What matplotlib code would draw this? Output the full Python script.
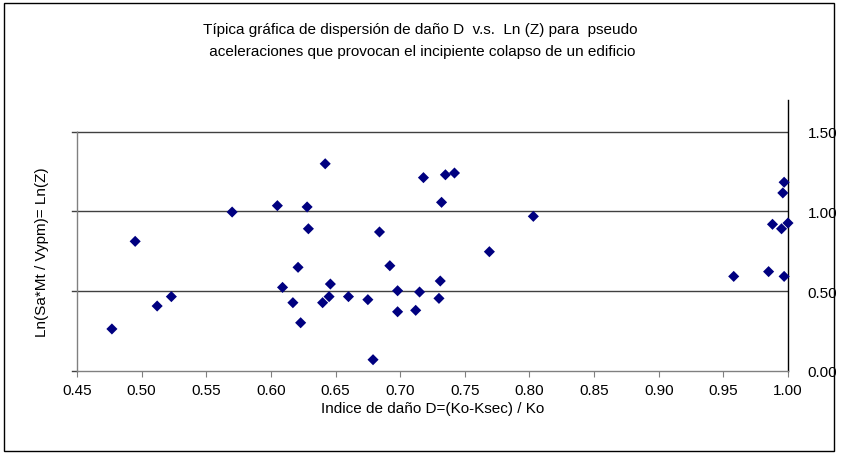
import numpy as np
import matplotlib
matplotlib.use("Agg")
import matplotlib.pyplot as plt
from matplotlib.patches import Rectangle

plt.rcParams['font.family'] = ['Liberation Sans', 'DejaVu Sans']

# indice de daño D y Ln(Z) de cada caso
dano = [0.477, 0.495, 0.512, 0.523, 0.570, 0.605, 0.609, 0.617, 0.621, 0.623,
        0.628, 0.629, 0.640, 0.642, 0.645, 0.646, 0.660, 0.675, 0.679, 0.684,
        0.692, 0.698, 0.698, 0.712, 0.715, 0.718, 0.730, 0.731, 0.732, 0.735,
        0.742, 0.769, 0.803, 0.958, 0.985, 0.988, 0.995, 0.996, 0.997, 0.997,
        1.000]
lnz = [0.262, 0.812, 0.406, 0.465, 0.996, 1.036, 0.523, 0.427, 0.649, 0.301,
       1.028, 0.891, 0.427, 1.299, 0.465, 0.544, 0.465, 0.446, 0.069, 0.871,
       0.659, 0.502, 0.370, 0.379, 0.494, 1.212, 0.454, 0.563, 1.057, 1.230,
       1.241, 0.747, 0.969, 0.592, 0.622, 0.919, 0.891, 1.116, 1.183, 0.592,
       0.927]

xticks = [0.45, 0.50, 0.55, 0.60, 0.65, 0.70, 0.75, 0.80, 0.85, 0.90, 0.95, 1.00]
yticks = [0.0, 0.5, 1.0, 1.5]

fs = 11

fig = plt.figure(figsize=(8.41, 4.60), dpi=100)
fig.patches.append(Rectangle((4 / 841, 8 / 460), 830 / 841, 448 / 460,
                             transform=fig.transFigure, fill=False,
                             edgecolor='black', linewidth=1.0))

# eje: 0.45 en x=77px, 1.00 en x=788px, 0 en y=371.7px, 1.7 arriba
ax = fig.add_axes([77 / 841, 88.3 / 460, 711 / 841, 270.8 / 460])
ax.set_xlim(0.45, 1.00)
ax.set_ylim(0, 1.70)

for y in yticks[1:]:
    ax.axhline(y, color='#404040', linewidth=1.0, zorder=1)

ax.scatter(dano, lnz, marker='D', s=32, color='#000080', edgecolors='none',
           zorder=3, clip_on=False)

ax.spines['top'].set_visible(False)
ax.spines['left'].set_color('#808080')
ax.spines['left'].set_bounds(0, 1.5)
ax.spines['bottom'].set_color('#808080')
ax.spines['right'].set_color('black')
ax.spines['right'].set_position(('data', 1.00))
for sp in ax.spines.values():
    sp.set_linewidth(1.0)

ax.set_xticks(xticks)
ax.set_xticklabels(['%.2f' % v for v in xticks])
ax.tick_params(axis='x', direction='out', length=4, color='#808080',
               labelsize=fs, pad=5)

ax.yaxis.tick_right()
ax.set_yticks(yticks)
ax.set_yticklabels(['%.2f' % v for v in yticks])
ax.tick_params(axis='y', direction='out', length=0, labelsize=fs, pad=14)

# marcas cortas hacia la izquierda sobre el eje gris
for y in yticks:
    ax.plot([0.4465, 0.45], [y, y], color='#404040', linewidth=1.0,
            clip_on=False)

ax.set_xlabel('Indice de daño D=(Ko-Ksec) / Ko', fontsize=fs, labelpad=3)
fig.text(42 / 841, 1 - 252 / 460, 'Ln(Sa*Mt / Vypm)= Ln(Z)', rotation=90,
         ha='center', va='center', fontsize=fs)

fig.text(420 / 841, 1 - 30 / 460,
         'Típica gráfica de dispersión de daño D  v.s.  Ln (Z) para  pseudo',
         ha='center', va='center', fontsize=fs)
fig.text(420 / 841, 1 - 52 / 460,
         ' aceleraciones que provocan el incipiente colapso de un edificio',
         ha='center', va='center', fontsize=fs)

fig.savefig('out.png', dpi=100)
